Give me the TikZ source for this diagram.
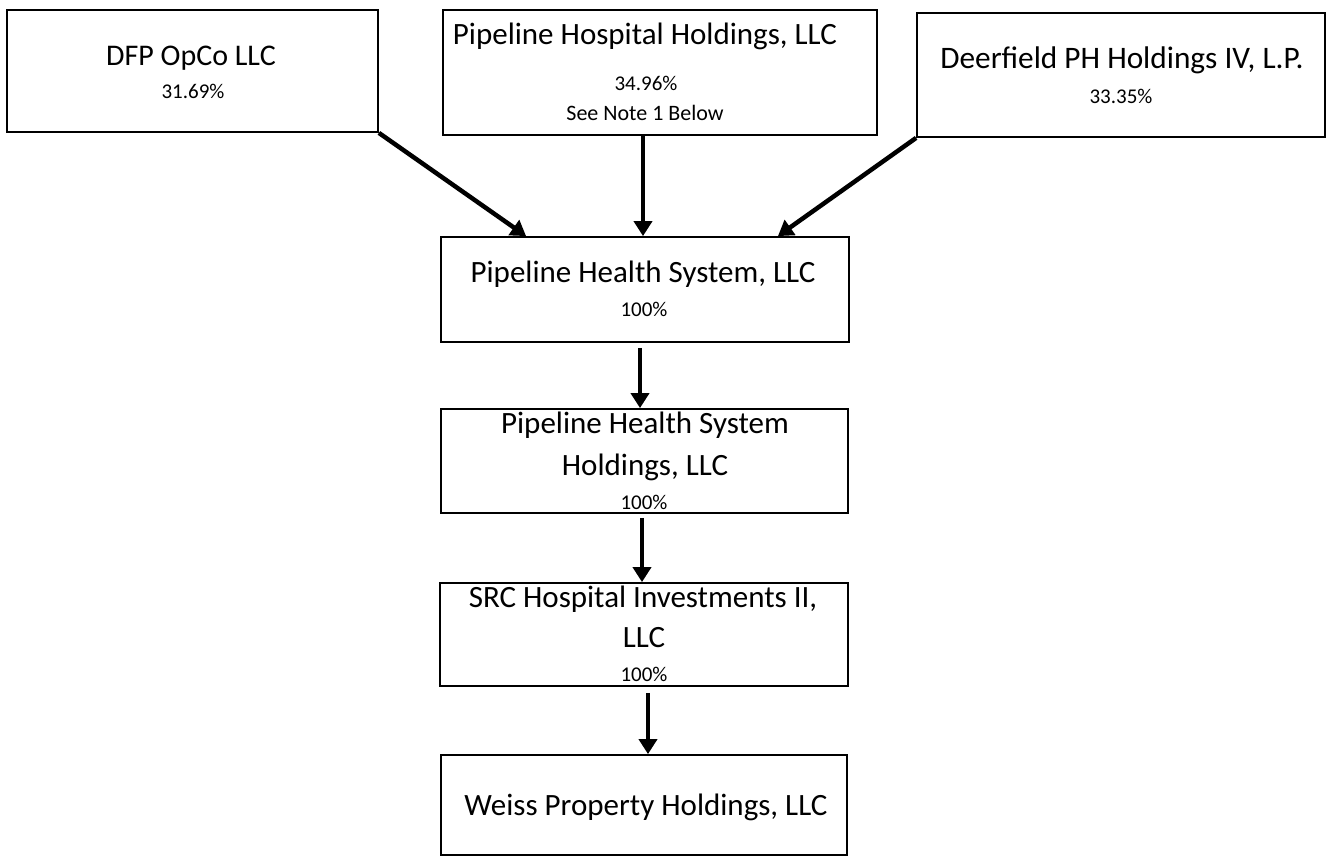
\documentclass[tikz,border=0pt]{standalone}
\usepackage{fontspec}
\setmainfont{Carlito}
\usetikzlibrary{arrows.meta}
\begin{document}
\begin{tikzpicture}[x=1pt,y=-1pt,
    box/.style={draw,line width=1.8pt,inner sep=0pt},
    arr/.style={line width=4.5pt,-{Triangle[width=18pt,length=15pt]}},
    ttl/.style={anchor=base,inner sep=0pt,font=\fontsize{31}{36}\selectfont},
    pct/.style={anchor=base,inner sep=0pt,font=\fontsize{21}{25}\selectfont}]
  \useasboundingbox (0,0) rectangle (1326,857);
  % owners
  \node[box,minimum width=371pt,minimum height=122pt] (dfp) at (192.5,71) {};
  \node[box,minimum width=434pt,minimum height=125pt] (phh) at (660,72.5) {};
  \node[box,minimum width=408pt,minimum height=124pt] (dph) at (1121,75) {};
  \node[ttl,font=\fontsize{30}{36}\selectfont] (dfpname) at (191,65) {DFP OpCo LLC};
  \node[pct] (dfppct) at (193,98) {31.69\%};
  \node[ttl] (phhname) at (645,44) {Pipeline Hospital Holdings, LLC};
  \node[pct] (phhpct) at (646,90) {34.96\%};
  \node[pct,font=\fontsize{22}{26}\selectfont] (phhnote) at (645,120) {See Note 1 Below};
  \node[ttl,font=\fontsize{31.3}{36}\selectfont] (dphname) at (1122,68) {Deerfield PH Holdings IV, L.P.};
  \node[pct] (dphpct) at (1121,103) {33.35\%};
  % chain
  \node[box,minimum width=408pt,minimum height=105pt] (phs) at (645,289.5) {};
  \node[box,minimum width=407pt,minimum height=104pt] (phsh) at (644.5,461) {};
  \node[box,minimum width=408pt,minimum height=103pt] (src) at (644,634.5) {};
  \node[box,minimum width=406pt,minimum height=100pt] (weiss) at (644,805) {};
  \node[ttl] (phsname) at (643,282) {Pipeline Health System, LLC};
  \node[pct] (phspct) at (644,316.5) {100\%};
  \node[ttl] (phshname) at (645,433) {Pipeline Health System};
  \node[ttl] (phshname2) at (645,475) {Holdings, LLC};
  \node[pct] (phshpct) at (644,509.5) {100\%};
  \node[ttl] (srcname) at (643,607) {SRC Hospital Investments II,};
  \node[ttl] (srcname2) at (644,647) {LLC};
  \node[pct] (srcpct) at (644,681.5) {100\%};
  \node[ttl] (weissname) at (646,815) {Weiss Property Holdings, LLC};
  % arrows
  \draw[arr] (dfp.south east) -- ([xshift=86pt]phs.north west);
  \draw[arr] ([xshift=-2pt]phs.north |- phh.south) -- ([xshift=-2pt]phs.north);
  \draw[arr] (dph.south west) -- ([xshift=-72pt]phs.north east);
  \draw[arr] ([xshift=-5pt,yshift=-5pt]phs.south) -- ([xshift=-4.5pt]phsh.north);
  \draw[arr] ([xshift=-2.5pt,yshift=-4pt]phsh.south) -- ([xshift=-2pt]src.north);
  \draw[arr] ([xshift=4pt,yshift=-6pt]src.south) -- ([xshift=4pt]weiss.north);
\end{tikzpicture}
\end{document}
